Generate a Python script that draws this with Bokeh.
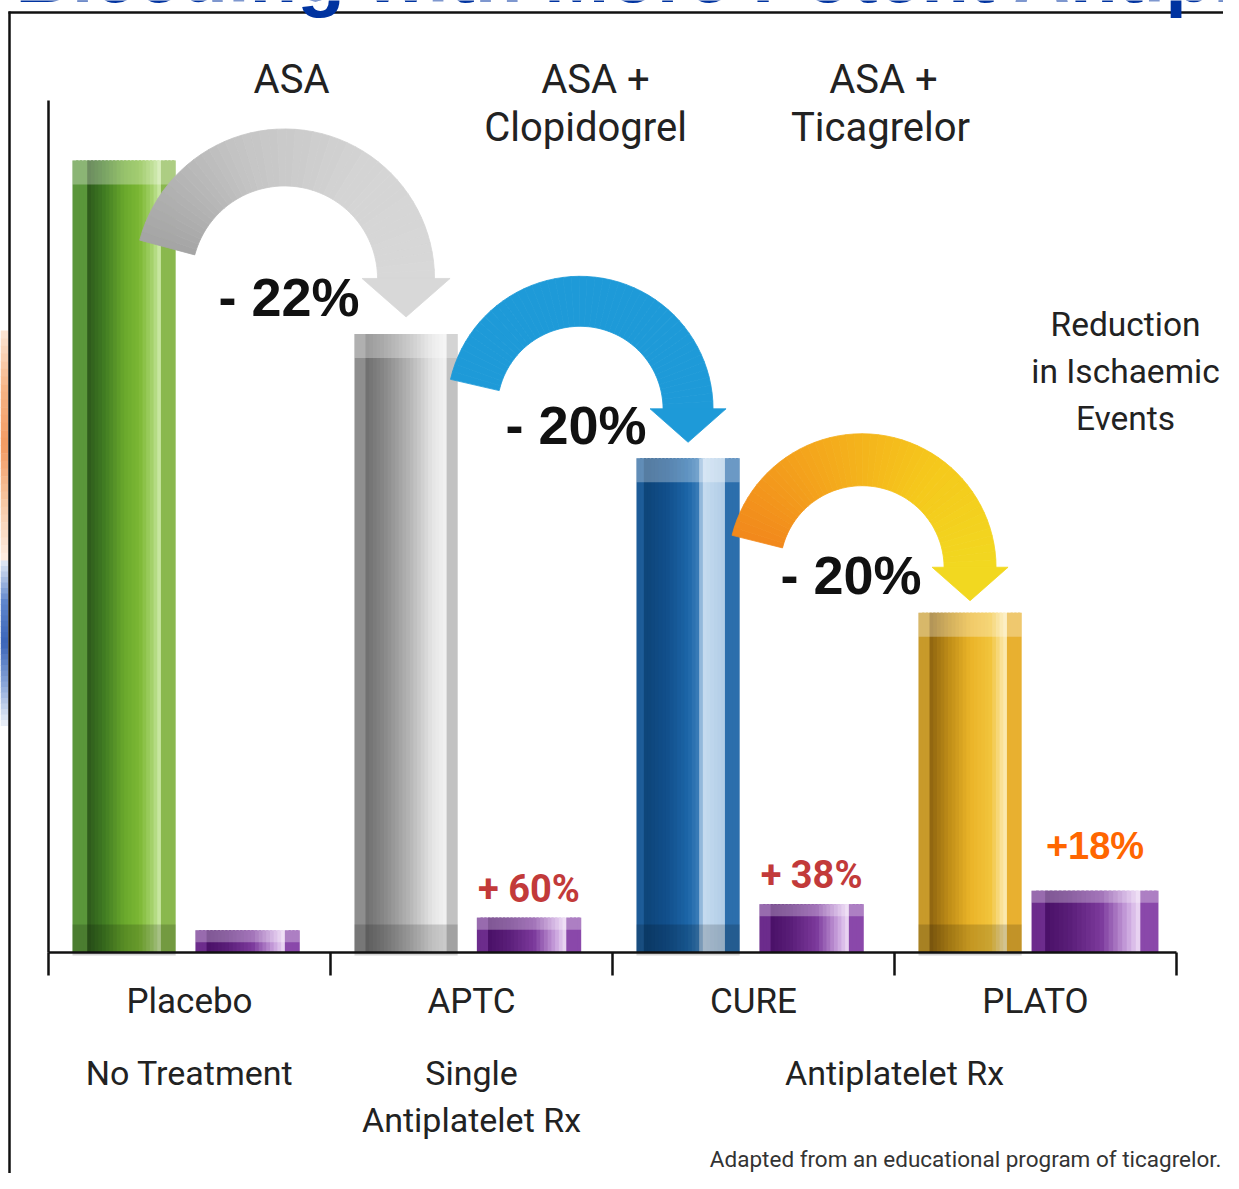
import numpy as np
from bokeh.plotting import figure
from bokeh.models import Range1d
from bokeh.core.properties import value
from bokeh.embed import file_html
from bokeh.resources import INLINE

# ---------------- data ----------------
categories = ["Placebo", "APTC", "CURE", "PLATO"]
sub_labels = ["No Treatment", "Single\nAntiplatelet Rx", "", ""]
span_label = "Antiplatelet Rx"
header_labels = ["ASA", "ASA +\nClopidogrel", "ASA +\nTicagrelor"]
ischaemic = [100.0, 78.1, 62.4, 42.9]      # relative ischaemic events
bleeding = [2.8, 4.4, 6.1, 7.8]            # relative bleeding
reduction_labels = ["- 22%", "- 20%", "- 20%"]
bleeding_labels = ["", "+ 60%", "+ 38%", "+18%"]
side_title = "Reduction\nin Ischaemic\nEvents"
title = "Bleeding with More Potent Antiplatelet Therapy"
note = "Adapted from an educational program of ticagrelor."

# ---------------- layout / style ----------------
W, H = 1223, 1173
AX_X, AX_Y = 48, 952          # axis origin (px)
GROUP_PX = 282.0              # px per group
VAL_PX = 7.92                 # px per value unit
K = 0.39                      # baseline correction (fraction of font size)


def gx(px):
    return (px - AX_X) / GROUP_PX


def vy(py):
    return (AX_Y - py) / VAL_PX


NARROW = value("Roboto")
SANS = value("Liberation Sans")

main_offset, main_width = 0.268, 0.366
bleed_offset = [0.706, 0.704, 0.706, 0.711]
bleed_width = [0.37, 0.37, 0.37, 0.45]

green = [(0, '#5a963a'), (0.14, '#5a963a'), (0.15, '#2e5a1c'), (0.3, '#3f7a22'), (0.5, '#6aa82c'),
         (0.65, '#7cb834'), (0.78, '#a8d470'), (0.86, '#d2ecb0'), (0.87, '#8ab84e'), (1, '#8ab84e')]
gray = [(0, '#8e8e8e'), (0.11, '#8e8e8e'), (0.12, '#707070'), (0.3, '#8a8a8a'), (0.55, '#b8b8b8'),
        (0.75, '#e4e4e4'), (0.88, '#f2f2f2'), (0.89, '#c2c2c2'), (1, '#c2c2c2')]
blue = [(0, '#1d5c98'), (0.08, '#1d5c98'), (0.09, '#0d4478'), (0.3, '#12508c'), (0.5, '#1c66a8'),
        (0.6, '#3a7cb8'), (0.64, '#c6dcf0'), (0.86, '#b0cce6'), (0.87, '#2c6eac'), (1, '#2c6eac')]
yellow = [(0, '#c89a2a'), (0.1, '#c89a2a'), (0.11, '#8e6410'), (0.3, '#c08e18'), (0.5, '#eab428'),
          (0.7, '#f2c43c'), (0.82, '#fbe6a4'), (0.86, '#fcecb8'), (0.87, '#e8b030'), (1, '#e8b030')]
purple = [(0, '#6c2c8c'), (0.1, '#6c2c8c'), (0.11, '#4a1068'), (0.3, '#5a1e78'), (0.55, '#7c3a9c'),
          (0.75, '#c8a0dc'), (0.85, '#ecd8f4'), (0.87, '#8a48aa'), (1, '#8a48aa')]
main_grads = [green, gray, blue, yellow]

arrow_r_in = [93, 83, 82]
arrow_r_out = [150, 133, 134]
arrow_gap = [55, 49, 45]
arrow_a0 = [165, 167, 166]
head_hw = [44, 38, 38]
head_depth = [38, 33, 33]
arrow_cols = [["#a4a4a4", "#c4c4c4", "#d4d4d4", "#d8d8d8"],
              ["#1e9ad8", "#1e9ad8"],
              ["#f2881c", "#f4a81c", "#f5c81c", "#f2d820"]]
label_xy = [(218, 318), (505, 446), (780, 596)]
header_x = [291, 585, 880]
header_line1_dx = [0, 10, 3]


def hex2rgb(h):
    h = h.lstrip('#')
    return tuple(int(h[i:i + 2], 16) for i in (0, 2, 4))


def grad(stops, t):
    for (t0, c0), (t1, c1) in zip(stops[:-1], stops[1:]):
        if t <= t1:
            f = 0 if t1 == t0 else (t - t0) / (t1 - t0)
            a, b = hex2rgb(c0), hex2rgb(c1)
            return '#%02x%02x%02x' % tuple(int(round(a[j] + (b[j] - a[j]) * f)) for j in range(3))
    return stops[-1][1]


def multi_grad(cols, t):
    n = len(cols) - 1
    return grad([(i / n, c) for i, c in enumerate(cols)], t)


p = figure(width=W, height=H, output_backend="svg", toolbar_location=None,
           x_range=Range1d(gx(0), gx(W)), y_range=Range1d(vy(H), vy(0)),
           min_border=0, outline_line_color=None, background_fill_color="white")
p.axis.visible = False
p.grid.visible = False
p.extra_x_ranges = {"px": Range1d(0, W)}
p.extra_y_ranges = {"px": Range1d(H, 0)}


def px_text(x, baseline, text, size, font=NARROW, color="#222222", align="center", style="normal"):
    p.text(x=[x], y=[baseline - K * size], text=[text], text_font=font, text_font_style=style,
           text_font_size="%gpx" % size, text_color=color, text_align=align,
           text_baseline="alphabetic", x_range_name="px", y_range_name="px")


# ---------------- slide background bits at the left edge ----------------
edge_bands = [(330, 560, ["#fbe6d6", "#f6b486", "#f29a62", "#f7c8a4", "#fdeee4"]),
              (560, 725, ["#e4ebf6", "#5f86cc", "#3a64b8", "#8aa6d8", "#eef2f9"])]
for y0, y1, cols in edge_bands:
    n = 30
    ys = np.linspace(y0, y1, n + 1)
    p.quad(left=[0] * n, right=[7.5] * n, top=list(ys[:-1]), bottom=list(ys[1:] + 0.6),
           fill_color=[multi_grad(cols, (k + 0.5) / n) for k in range(n)], line_color=None,
           x_range_name="px", y_range_name="px")

# ---------------- frame of the slide ----------------
p.segment(x0=[9, 8], y0=[11, 12], x1=[9, W], y1=[H, 12],
          line_color="#111111", line_width=2.5, x_range_name="px", y_range_name="px")

# ---------------- bars ----------------
N = 28


def striped_bar(center, width, top, stops, cap_px, bottom_band):
    x0 = center - width / 2
    step = width / N
    lefts = [x0 + k * step for k in range(N)]
    rights = [min(x0 + (k + 1.6) * step, x0 + width) for k in range(N)]
    cs = [grad(stops, (k + 0.5) / N) for k in range(N)]
    p.quad(left=lefts, right=rights, top=[top] * N, bottom=[0] * N, fill_color=cs, line_color=None)
    p.quad(left=[x0], right=[x0 + width], top=[top], bottom=[top - cap_px / VAL_PX],
           fill_color="white", fill_alpha=0.3, line_color=None)
    if bottom_band:
        p.quad(left=[x0], right=[x0 + width], top=[28 / VAL_PX], bottom=[-3 / VAL_PX],
               fill_color="black", fill_alpha=0.16, line_color=None)


for i, cat in enumerate(categories):
    striped_bar(i + main_offset, main_width, ischaemic[i], main_grads[i], 24, True)
    striped_bar(i + bleed_offset[i], bleed_width[i], bleeding[i], purple, 12, False)

# ---------------- axes ----------------
p.segment(x0=[0, 0], y0=[0, 0], x1=[0, len(categories)], y1=[vy(100), 0],
          line_color="#111111", line_width=2.5)
ticks = list(range(len(categories) + 1))
p.segment(x0=ticks, y0=[0] * len(ticks), x1=ticks, y1=[-23 / VAL_PX] * len(ticks),
          line_color="#111111", line_width=2.5)

# ---------------- curved arrows ----------------
M = 48
for i in range(len(categories) - 1):
    nbc = AX_X + GROUP_PX * (i + 1 + main_offset)
    ntop = AX_Y - VAL_PX * ischaemic[i + 1]
    r_in, r_out = arrow_r_in[i], arrow_r_out[i]
    r_mid = (r_in + r_out) / 2
    cx, cy = nbc - r_mid, ntop - arrow_gap[i]
    th = np.radians(np.linspace(arrow_a0[i], 0, M + 1))
    xs, ys, cs = [], [], []
    for k in range(M):
        a, b = th[k], th[k + 1]
        xs.append([cx + r_out * np.cos(a), cx + r_out * np.cos(b), cx + r_in * np.cos(b), cx + r_in * np.cos(a)])
        ys.append([cy - r_out * np.sin(a), cy - r_out * np.sin(b), cy - r_in * np.sin(b), cy - r_in * np.sin(a)])
        cs.append(multi_grad(arrow_cols[i], (k + 0.5) / M))
    p.patches(xs, ys, fill_color=cs, line_color=cs, line_width=0.8,
              x_range_name="px", y_range_name="px")
    hc = arrow_cols[i][-1]
    p.patch([cx + r_mid - head_hw[i], cx + r_mid + head_hw[i], cx + r_mid],
            [cy - 0.5, cy - 0.5, cy + head_depth[i]],
            fill_color=hc, line_color=hc, line_width=0.8, x_range_name="px", y_range_name="px")
    px_text(label_xy[i][0], label_xy[i][1], reduction_labels[i], 54, font=SANS,
            color="#111111", align="left", style="bold")

# ---------------- texts ----------------
for i, lab in enumerate(header_labels):
    lines = lab.split("\n")
    for j, line in enumerate(lines):
        dx = header_line1_dx[i] if (j == 0 and len(lines) > 1) else 0
        px_text(header_x[i] + dx, 95 + 48 * j, line, 40)

for j, line in enumerate(side_title.split("\n")):
    px_text(1125, 337 + 47 * j, line, 33.5)

for i, cat in enumerate(categories):
    cxp = AX_X + GROUP_PX * (i + 0.5)
    px_text(cxp, 1015, cat, 35)
    for j, line in enumerate(sub_labels[i].split("\n")):
        if line:
            px_text(cxp, 1086 + 47 * j, line, 34)
px_text(AX_X + GROUP_PX * 3.0, 1086, span_label, 34)

bl_cols = ["#c23a3a", "#c23a3a", "#c23a3a", "#ff6600"]
bl_font = [NARROW, NARROW, NARROW, SANS]
bl_gap = [14, 14, 14, 30]
for i in range(1, len(categories)):
    top_px = AX_Y - VAL_PX * bleeding[i]
    cxp = AX_X + GROUP_PX * (i + bleed_offset[i])
    px_text(cxp, top_px - bl_gap[i], bleeding_labels[i], 38, font=bl_font[i],
            color=bl_cols[i], style="bold")

px_text(1221, 1167, note, 22.5, color="#333333", align="right")

px_text(15, 5, title, 78, font=SANS, color="#0033a0", align="left", style="bold")

open("out.html", "w").write(file_html(p, INLINE))
